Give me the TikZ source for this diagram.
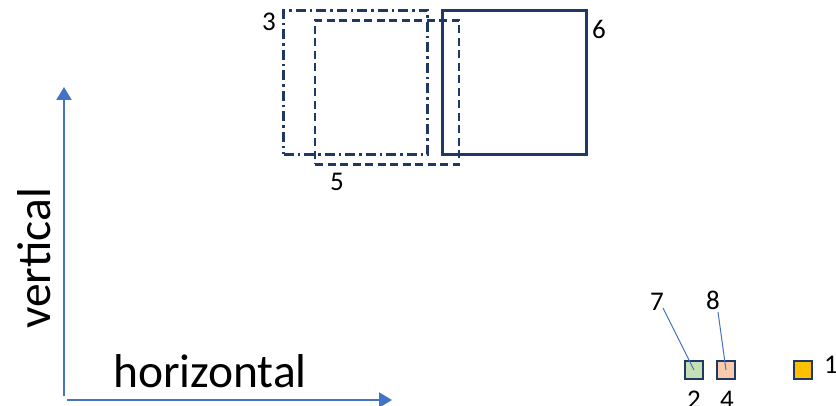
\documentclass[tikz,border=0pt]{standalone}
\usepackage{fontspec}
\setmainfont{Carlito}
\usetikzlibrary{arrows.meta}
\definecolor{navy}{HTML}{1F3864}
\definecolor{axisblue}{HTML}{4472C4}
\definecolor{sgreen}{HTML}{C5E0B4}
\definecolor{speach}{HTML}{F8CBAD}
\definecolor{sgold}{HTML}{FFC000}
\begin{document}
\begin{tikzpicture}[x=1pt,y=-1pt,
  axis/.style={draw=axisblue,line width=2pt,-{Triangle[length=13pt,width=15pt]}},
  bigsq/.style={draw=navy,line width=2.5pt,minimum size=144pt,inner sep=0pt,outer sep=0pt},
  smallsq/.style={draw=navy,line width=2.5pt,minimum size=18pt,inner sep=0pt,outer sep=0pt},
  num/.style={font=\fontsize{27}{29}\selectfont,inner sep=0pt},
  biglab/.style={font=\fontsize{47.5}{52}\selectfont,inner sep=0pt},
  leader/.style={draw=axisblue,line width=1pt}]
\useasboundingbox (0,0) rectangle (836,406);
% axes
\coordinate (vbot) at (64,396);
\coordinate (vtop) at (64,87);
\coordinate (hleft) at (67,400);
\coordinate (hright) at (392,400);
\draw[axis] (vbot) -- (vtop);
\draw[axis] (hleft) -- (hright);
\node[biglab,anchor=base west] (hlab) at (113,387) {horizontal};
\node[biglab,rotate=90,anchor=base west] (vlab) at (50,329) {vertical};
% big squares
\node[bigsq,dash pattern=on 10pt off 4pt on 2.5pt off 4pt] (sq3) at (355.5,82.5) {};
\node[bigsq,dash pattern=on 8pt off 4.5pt] (sq5) at (387,92.5) {};
\node[bigsq] (sq6) at (514.5,82.5) {};
\node[num] (l3) at (269,22) {3};
\node[num] (l5) at (337,182) {5};
\node[num] (l6) at (599,29) {6};
% small squares
\node[smallsq,fill=sgreen] (s2) at (694,370) {};
\node[smallsq,fill=speach] (s4) at (726,370) {};
\node[smallsq,fill=sgold] (s1) at (803,370) {};
\node[num] (l7) at (657,302) {7};
\node[num] (l8) at (713,300) {8};
\node[num] (l2) at (694,400) {2};
\node[num] (l4) at (727,400) {4};
\node[num] (l1) at (831,365) {1};
\coordinate (e7) at (663,308);
\coordinate (e8) at (718,312);
\draw[leader] (e7) -- (s2.center);
\draw[leader] (e8) -- (s4.center);
\end{tikzpicture}
\end{document}
